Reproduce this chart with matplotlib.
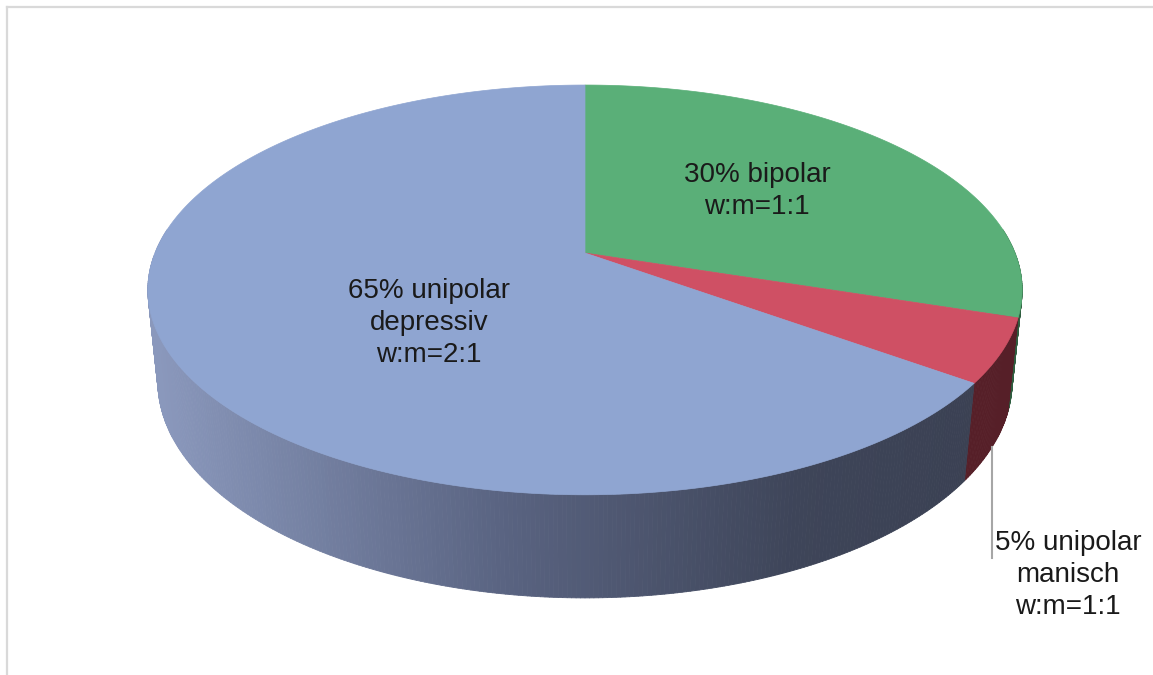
import numpy as np
import matplotlib.pyplot as plt
from matplotlib.collections import PolyCollection
from matplotlib.colors import LinearSegmentedColormap
from matplotlib.lines import Line2D

# ---------------------------------------------------------
# Data (clockwise from 12 o'clock, as in the original chart)
# ---------------------------------------------------------
shares = [30, 5, 65]
labels = ["30% bipolar\nw:m=1:1",
          "5% unipolar\nmanisch\nw:m=1:1",
          "65% unipolar\ndepressiv\nw:m=2:1"]
top_colors = ["#5AAF78", "#CF5064", "#8FA5D1"]
side_colors = ["#2F5E40", "#561F28", None]   # None -> shaded gradient

# ---------------------------------------------------------
# Simple perspective camera for a 3D pie
# ---------------------------------------------------------
sin_a, cos_a = 0.461, 0.8874   # elevation of the viewer
dist = 4.925                   # camera distance (perspective)
depth = 0.242                  # thickness of the pie


def project(theta, z=0.0, r=1.0):
    s = np.sin(theta) * r
    c = np.cos(theta) * r
    v = s * sin_a + z * cos_a
    w = s * cos_a - z * sin_a
    f = dist / (dist + w)
    return c * f, v * f


plt.rcParams['font.family'] = ['Liberation Sans', 'DejaVu Sans']

fig = plt.figure(figsize=(11.53, 6.75), dpi=100)
ax = fig.add_axes([0, 0, 1, 1])
ax.set_xlim(-585 / 430, 568 / 430)
ax.set_ylim(-422 / 430, 253 / 430)
ax.axis('off')

# slice boundaries in radians, clockwise from 90 deg
fracs = np.array(shares) / sum(shares)
bounds = np.pi / 2 - 2 * np.pi * np.concatenate([[0], np.cumsum(fracs)])

# gradient for the big slice's side wall (light left -> dark right)
side_cmap = LinearSegmentedColormap.from_list(
    "side", [(0.0, "#8A98BC"), (0.4, "#5A6482"), (0.75, "#3E4559"), (1.0, "#3A4052")])

# ---------------------------------------------------------
# Outer walls (front half only), drawn as thin strips
# ---------------------------------------------------------
polys, cols = [], []
step = np.radians(0.5)
for i in range(len(shares)):
    hi, lo = bounds[i], bounds[i + 1]
    t = np.arange(hi, lo, -step)
    t = np.append(t, lo)
    t = np.mod(t + np.pi, 2 * np.pi) - np.pi
    for t1, t2 in zip(t[:-1], t[1:]):
        if abs(t1 - t2) > np.pi:
            continue
        # skip the back part, it is hidden by the top faces
        if np.sin(t1) > 0.12 and np.sin(t2) > 0.12:
            continue
        xa, ya = project(t1)
        xb, yb = project(t2)
        xc, yc = project(t2, -depth)
        xd, yd = project(t1, -depth)
        polys.append([(xa, ya), (xb, yb), (xc, yc), (xd, yd)])
        if side_colors[i] is None:
            cols.append(side_cmap(np.clip((xa + 1.0) / 2.0, 0, 1)))
        else:
            cols.append(side_colors[i])

walls = PolyCollection(polys, facecolors=cols, edgecolors=cols, linewidths=0.6)
ax.add_collection(walls)

# ---------------------------------------------------------
# Top faces
# ---------------------------------------------------------
for i in range(len(shares)):
    t = np.linspace(bounds[i], bounds[i + 1], 300)
    xs, ys = project(t)
    ax.fill(np.r_[0, xs], np.r_[0, ys], color=top_colors[i], lw=0.5,
            ec=top_colors[i], zorder=3)

# ---------------------------------------------------------
# Labels
# ---------------------------------------------------------
txt = dict(fontsize=20, ha='center', va='center', color='#1A1A1A',
           linespacing=1.3, zorder=5)
ax.text(0.400, 0.144, labels[0], **txt)
ax.text(-0.363, -0.163, labels[2], **txt)
ax.text(1.123, -0.749, labels[1], **txt)

# leader line for the small slice
mid = (bounds[1] + bounds[2]) / 2
lx, ly = project(mid, -depth)
ax.plot([lx, lx], [ly, -0.709], color='#A6A6A6', lw=1.5, zorder=4)

# chart area frame (top and left edges visible)
fig.add_artist(Line2D([7 / 1153, 7 / 1153], [0, 1 - 7 / 675],
                      transform=fig.transFigure, color='#D9D9D9', lw=1.6))
fig.add_artist(Line2D([7 / 1153, 1], [1 - 7 / 675, 1 - 7 / 675],
                      transform=fig.transFigure, color='#D9D9D9', lw=1.6))

plt.savefig('out.png', dpi=100)
